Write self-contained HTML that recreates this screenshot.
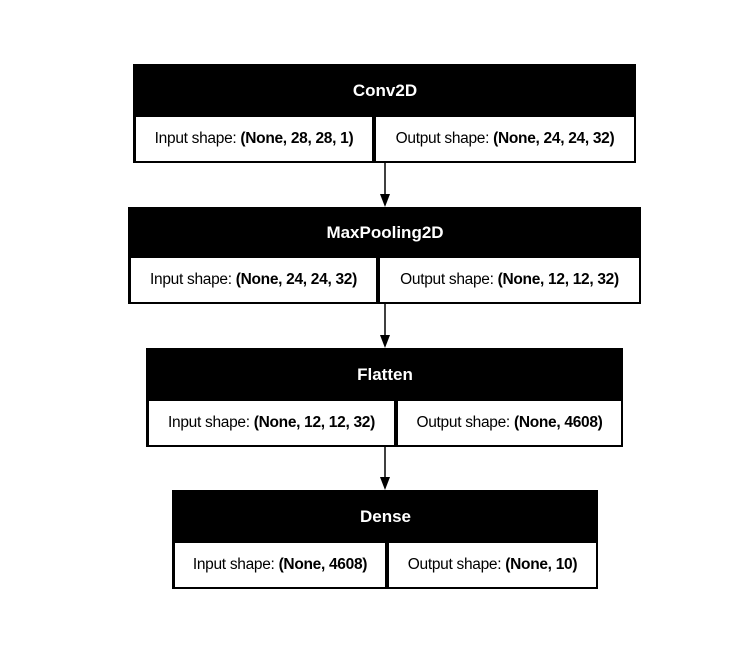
<!DOCTYPE html>
<html><head><meta charset="utf-8"><style>
body{margin:0;background:#fff;width:741px;height:668px;position:relative;overflow:hidden;font-family:"Liberation Sans",Arial,sans-serif}
.box{position:absolute;background:#000;box-sizing:border-box;padding:0 2px 2px 3px}
.hd{height:53px;color:#fff;font-weight:bold;font-size:17px;display:flex;align-items:center;justify-content:center}
.row{display:flex;height:44px}
.c{background:#fff;display:flex;align-items:center;justify-content:center;font-size:15.5px;letter-spacing:-0.3px;white-space:nowrap;box-sizing:border-box}
.c b{margin-left:4px}
.gap{width:4px}
svg{position:absolute;left:0;top:0}
</style></head><body>
<div class="box" style="left:133px;top:64px;width:503px;height:99px">
<div class="hd">Conv2D</div>
<div class="row"><div class="c" style="width:236px">Input shape:<b>(None, 28, 28, 1)</b></div><div class="gap"></div><div class="c" style="flex:1">Output shape:<b>(None, 24, 24, 32)</b></div></div>
</div>
<div class="box" style="left:128px;top:207px;width:513px;height:97px">
<div class="hd" style="height:51px">MaxPooling2D</div>
<div class="row"><div class="c" style="width:245px">Input shape:<b>(None, 24, 24, 32)</b></div><div class="gap"></div><div class="c" style="flex:1">Output shape:<b>(None, 12, 12, 32)</b></div></div>
</div>
<div class="box" style="left:146px;top:348px;width:477px;height:99px">
<div class="hd">Flatten</div>
<div class="row"><div class="c" style="width:245px">Input shape:<b>(None, 12, 12, 32)</b></div><div class="gap"></div><div class="c" style="flex:1">Output shape:<b>(None, 4608)</b></div></div>
</div>
<div class="box" style="left:172px;top:490px;width:426px;height:99px">
<div class="hd">Dense</div>
<div class="row"><div class="c" style="width:210px">Input shape:<b>(None, 4608)</b></div><div class="gap"></div><div class="c" style="flex:1">Output shape:<b>(None, 10)</b></div></div>
</div>
<svg width="741" height="668">
<g stroke="#000" stroke-width="1.5" fill="#000">
<line x1="385" y1="163" x2="385" y2="195"/><polygon points="380,194 390,194 385,207" stroke="none"/>
<line x1="385" y1="304" x2="385" y2="336"/><polygon points="380,335 390,335 385,348" stroke="none"/>
<line x1="385" y1="447" x2="385" y2="478"/><polygon points="380,477 390,477 385,490" stroke="none"/>
</g></svg>
</body></html>
